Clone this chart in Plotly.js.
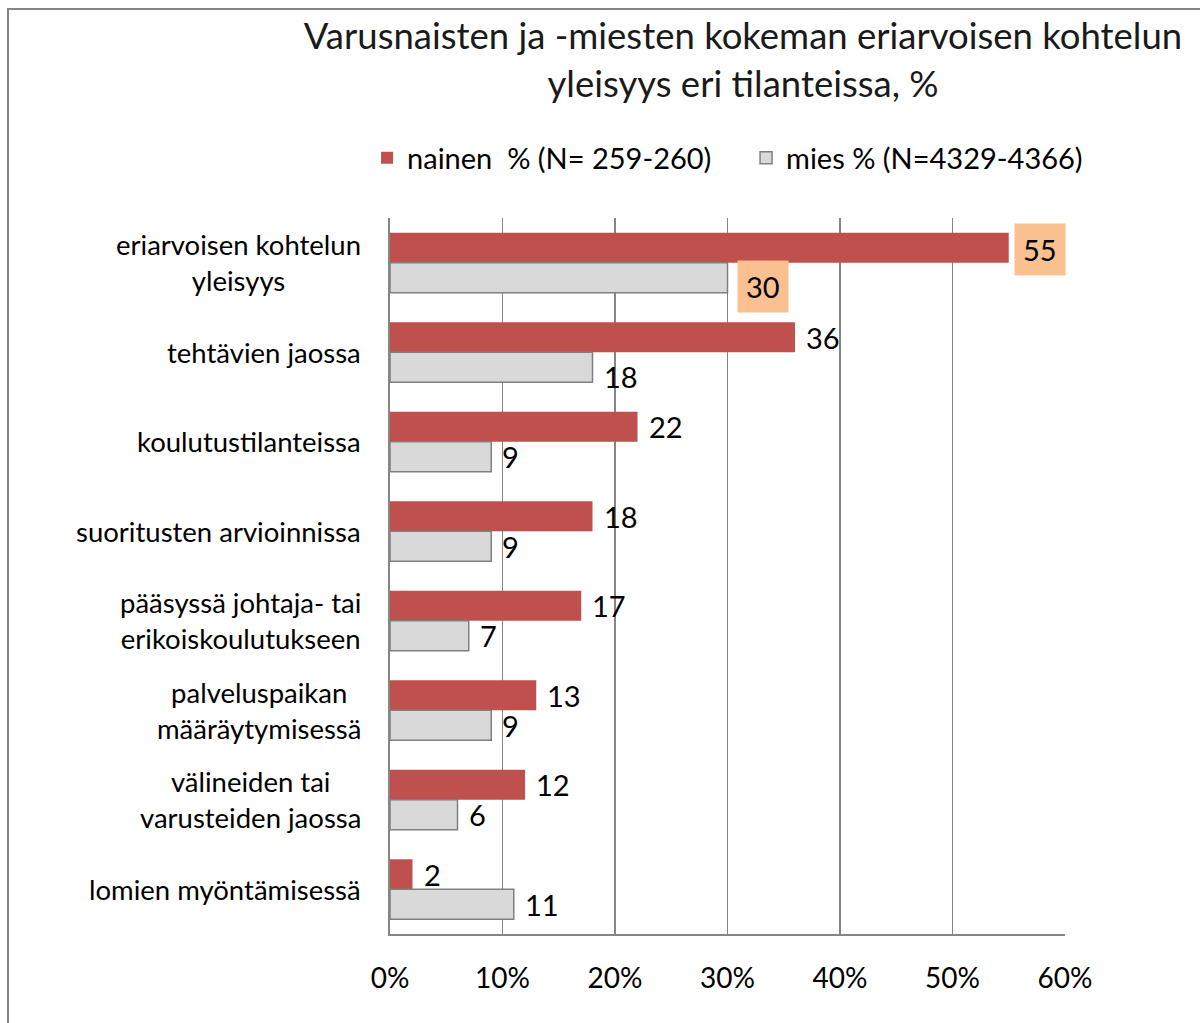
<!DOCTYPE html>
<html>
<head>
<meta charset="utf-8">
<script src="https://cdn.plot.ly/plotly-3.0.1.min.js"></script>
<style>
  html, body { margin:0; padding:0; background:#fff; overflow:hidden; }
  #wrap { position:relative; width:1200px; height:1023px; overflow:hidden; }
  #chart { position:absolute; left:0; top:0; width:1200px; height:1023px; }
  #frame { position:absolute; left:7px; top:8px; width:1300px; height:1100px; border:2px solid #868686; box-sizing:border-box; pointer-events:none; }
</style>
</head>
<body>
<div id="wrap">
  <div id="chart"></div>
  <div id="frame"></div>
</div>
<script>
const categories = [
  "eriarvoisen kohtelun<br>yleisyys",
  "tehtävien jaossa",
  "koulutustilanteissa",
  "suoritusten arvioinnissa",
  "pääsyssä johtaja- tai<br>erikoiskoulutukseen",
  "palveluspaikan<br>määräytymisessä",
  "välineiden tai<br>varusteiden jaossa",
  "lomien myöntämisessä"
];
const nainen = [55, 36, 22, 18, 17, 13, 12, 2];
const mies   = [30, 18, 9, 9, 7, 9, 6, 11];
const nainenName = "nainen  % (N= 259-260)";
const miesName = "mies % (N=4329-4366)";
const tickVals = [0, 10, 20, 30, 40, 50, 60];
const tickText = ["0%", "10%", "20%", "30%", "40%", "50%", "60%"];
const highlighted = [0];

const FONT = "Lato, 'Open Sans', sans-serif";
const txtColor = "#000000";

const traces = [
  {
    type: "bar", orientation: "h", name: nainenName,
    y: categories, x: nainen,
    marker: { color: "#C0504D", line: { width: 0 } },
    hoverinfo: "skip"
  },
  {
    type: "bar", orientation: "h", name: miesName,
    y: categories, x: mies,
    marker: { color: "#D9D9D9", line: { width: 1.5, color: "#808080" } },
    hoverinfo: "skip"
  }
];

const LBL = { family: FONT, size: 29, color: txtColor };
const annotations = [];
categories.forEach((c, i) => {
  annotations.push({
    xref: "paper", yref: "y", x: -0.04, y: c, xanchor: "right", yanchor: "middle",
    text: c, align: "center", showarrow: false,
    font: { family: FONT, size: 27.5, color: txtColor }
  });
  const hi = highlighted.includes(i);
  annotations.push({
    xref: "x", yref: "y", x: nainen[i], y: c, xanchor: "left", yanchor: "middle",
    xshift: hi ? 5 : 10, yshift: hi ? 13 : 15,
    text: String(nainen[i]), showarrow: false,
    bgcolor: hi ? "#FAC090" : "rgba(0,0,0,0)", borderpad: hi ? 8 : 0,
    font: LBL
  });
  annotations.push({
    xref: "x", yref: "y", x: mies[i], y: c, xanchor: "left", yanchor: "middle",
    xshift: hi ? 9 : 10, yshift: (hi || i === 1) ? -24 : -15,
    text: String(mies[i]), showarrow: false,
    bgcolor: hi ? "#FAC090" : "rgba(0,0,0,0)", borderpad: hi ? 8 : 0,
    font: LBL
  });
});

const layout = {
  width: 1200, height: 1023,
  margin: { l: 390, r: 135, t: 218, b: 89, pad: 0, autoexpand: false },
  paper_bgcolor: "#ffffff", plot_bgcolor: "#ffffff",
  font: { family: FONT, color: txtColor },
  title: {
    text: "Varusnaisten ja -miesten kokeman eriarvoisen kohtelun<br>yleisyys eri tilanteissa, %",
    font: { family: FONT, size: 36.5, color: "#1a1a1a" },
    xref: "paper", x: 0.523, xanchor: "center",
    yref: "container", y: 0.952, yanchor: "middle"
  },
  barmode: "group", bargap: 0.33, bargroupgap: 0,
  showlegend: true,
  legend: {
    orientation: "h", x: -0.034, xanchor: "left", y: 1.084, yanchor: "middle",
    font: { family: FONT, size: 29, color: txtColor },
    traceorder: "normal", entrywidth: 334, entrywidthmode: "pixels",
    itemclick: false, itemdoubleclick: false, itemwidth: 30
  },
  xaxis: {
    range: [0, 60], autorange: false, tickvals: tickVals, ticktext: tickText,
    showgrid: true, gridcolor: "#868686", gridwidth: 1.5,
    showline: true, linecolor: "#868686", linewidth: 2,
    zeroline: false, ticks: "", ticklabelstandoff: 18,
    tickfont: { family: FONT, size: 28, color: txtColor },
    fixedrange: true
  },
  yaxis: {
    type: "category", range: [7.5, -0.5], autorange: false,
    showticklabels: false, showgrid: false,
    showline: true, linecolor: "#868686", linewidth: 2,
    ticks: "", zeroline: false, fixedrange: true
  },
  annotations: annotations
};

Plotly.newPlot("chart", traces, layout, { staticPlot: true, displayModeBar: false });
</script>
</body>
</html>
